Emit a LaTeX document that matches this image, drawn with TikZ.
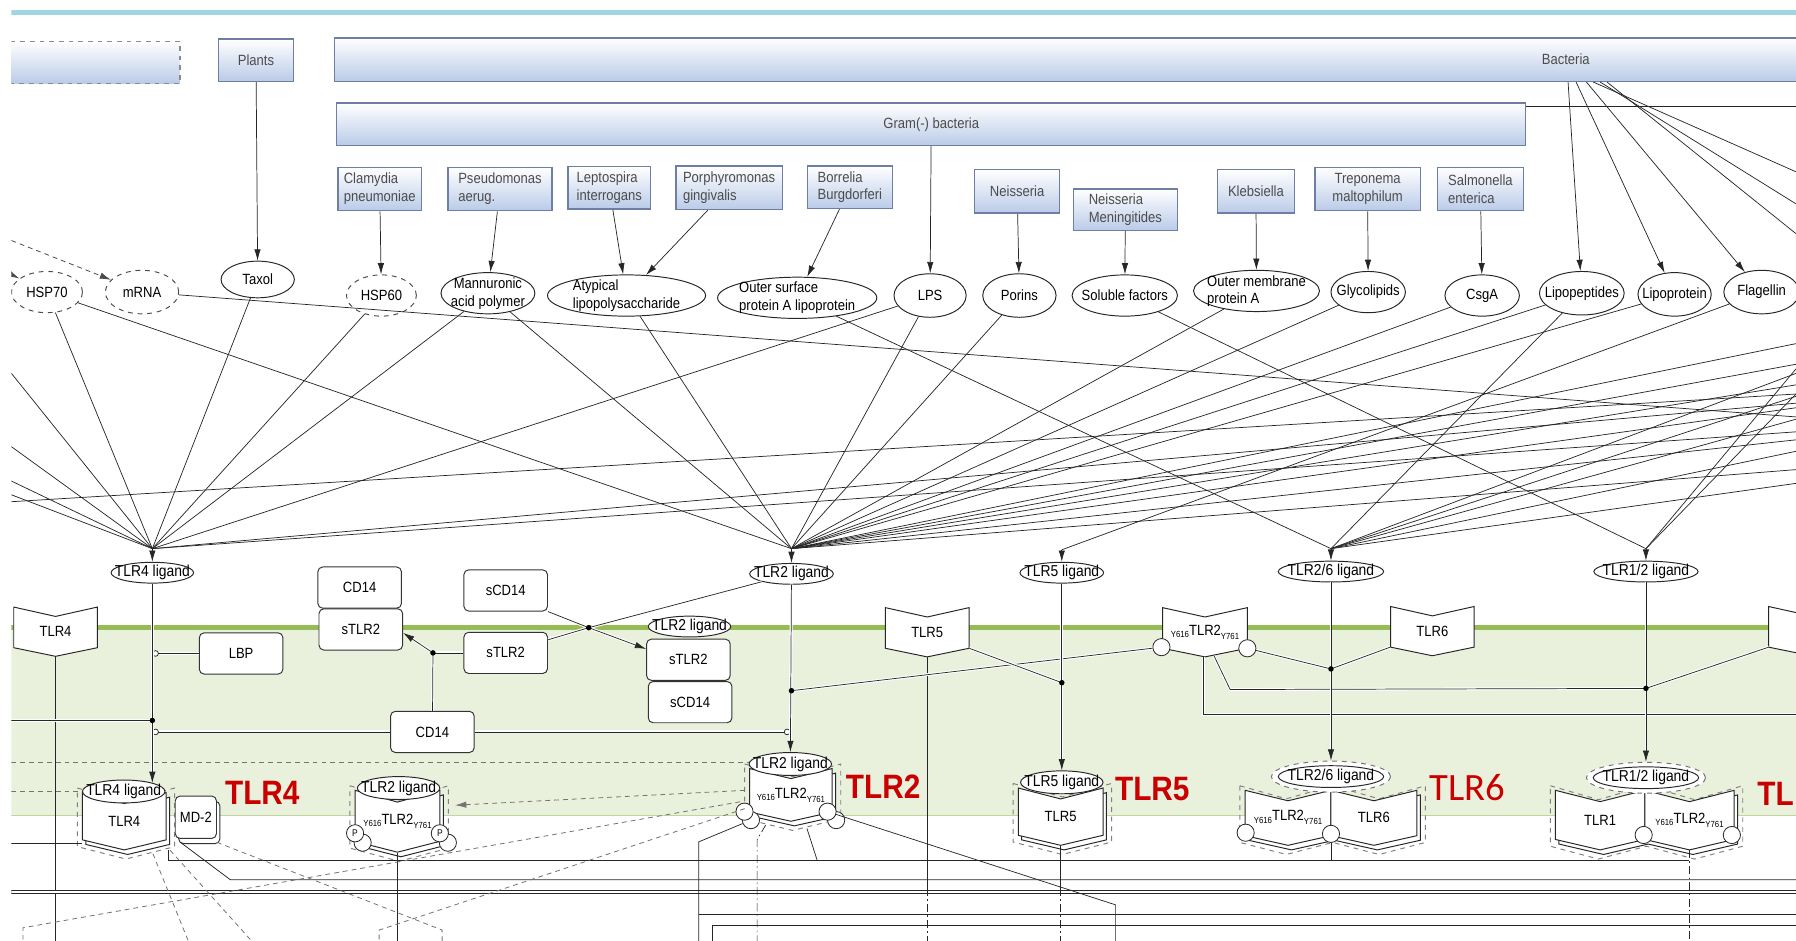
\documentclass[tikz,border=0pt]{standalone}
\usepackage{fontspec}
\setmainfont{Liberation Sans}[FakeStretch=0.88]
\newfontfamily\labfont{Carlito}
\usetikzlibrary{shapes,arrows.meta,calc}
\newlength\px
\setlength\px{0.025cm}
\definecolor{boxblue}{RGB}{186,203,232}
\definecolor{boxline}{RGB}{110,126,165}
\definecolor{memgreen}{RGB}{150,188,86}
\definecolor{cytgreen}{RGB}{233,241,221}
\definecolor{tlrred}{RGB}{200,0,0}
\definecolor{topcyan}{RGB}{160,214,226}
\def\orgfont{\fontsize{9.2}{11}\selectfont}
\def\ligfont{\fontsize{9.8}{11}\selectfont}
\def\subfont{\fontsize{5.5}{6}\selectfont}
\def\ytl{{\subfont\raisebox{-1.5pt}{Y616}}TLR2{\subfont\raisebox{-2.5pt}{Y761}}}
\def\two#1#2#3{\smash{\raisebox{-2.5pt}{\begin{tabular}{@{}#1@{}}#2\\#3\end{tabular}}}}
\tikzstyle{org}=[draw=boxline,line width=0.9pt,top color=white,bottom color=boxblue,text=black!70,inner sep=0pt,align=left]
\tikzstyle{elli}=[ellipse,draw=black!85,fill=white,line width=0.6pt,inner sep=0pt]
\tikzstyle{mbox}=[draw=black!80,fill=white,rounded corners=3pt,line width=0.6pt,minimum width=73\px,minimum height=36\px,inner sep=0pt]
\tikzstyle{chevline}=[draw=black!85,fill=white,line width=0.6pt]
\tikzstyle{tlrn}=[inner sep=0pt,minimum width=73\px,minimum height=43\px]
\tikzstyle{phos}=[circle,draw=black!85,fill=white,line width=0.5pt,inner sep=0pt,minimum size=15\px,font=\fontsize{6}{6}\selectfont]
\tikzstyle{link}=[draw=black!85,line width=0.45pt]
\tikzstyle{mline}=[link,preaction={draw=white,line width=1.8pt}]
\tikzstyle{gline}=[draw=black!55,line width=0.5pt,dash pattern=on 3pt off 2.5pt]
\tikzstyle{dline}=[link,dash pattern=on 5pt off 2pt on 1pt off 2pt]
\tikzstyle{arr}=[-{Latex[length=7pt,width=4pt]}]
\tikzstyle{ocirc}=[-{Circle[open,length=4pt]}]
\tikzstyle{tlrlab}=[text=tlrred,font=\fontsize{21}{21}\selectfont\bfseries]
\def\chev#1#2#3#4#5{\draw[chevline,#5,shift={(#1,#2)},xscale=#3,yscale=#4] (-1,-1) -- (0,-0.62) -- (1,-1) -- (1,0.65) -- (0,1) -- (-1,0.65) -- cycle;}
\def\dchev#1#2#3#4#5{\draw[chevline,#5,shift={(#1,#2)},xscale=#3,yscale=#4] (-2,-1) -- (-1,-0.62) -- (0,-1) -- (1,-0.62) -- (2,-1) -- (2,0.65) -- (1,1) -- (0,0.65) -- (-1,1) -- (-2,0.65) -- cycle;}
\def\cplx#1#2#3#4{\chev{#1+1.5}{#2+2}{#3+6}{#4+6}{dashed,draw=black!50,fill=none}\chev{#1+3}{#2+4}{#3}{#4}{}\chev{#1}{#2}{#3}{#4}{}}
\def\dcplx#1#2#3#4{\dchev{#1+1.5}{#2+2}{#3+3}{#4+6}{dashed,draw=black!50,fill=none}\dchev{#1+3}{#2+4}{#3}{#4}{}\chev{#1-#3}{#2}{#3}{#4}{}\chev{#1+#3}{#2}{#3}{#4}{}}
\newcommand\elnode[6][]{\node[elli,#1,minimum width=#4\px,minimum height=#5\px] (#2) at (#3) {\makebox[0pt]{#6}};}

\begin{document}
\begin{tikzpicture}[x=0.025cm,y=-0.025cm,font=\orgfont]
  \useasboundingbox (0,0) rectangle (1568,821);
  \clip (10,0) rectangle (1568,821);
  \fill[topcyan] (0,8.5) rectangle (1568,13);
  \fill[cytgreen] (10,549) rectangle (1570,712);
  \draw[memgreen!60,line width=0.6pt] (10,712) -- (1570,712);
  \draw[memgreen,line width=2.8pt] (10,548) -- (1570,548);

  \node[org,dashed,draw=black!45,minimum width=157\px,minimum height=37\px] (virus) at (78.5,54.5) {};
  \node[org,minimum width=65\px,minimum height=37\px] (plants) at (223.5,52.5) {Plants};
  \node[org,minimum width=2150\px,minimum height=38\px] (bact) at (1367,52) {Bacteria};
  \node[org,minimum width=1038\px,minimum height=37\px] (gram) at (813,108.5) {Gram(-) bacteria};
  \node[org,minimum width=73\px,minimum height=38\px] (clam) at (331.5,165) {Clamydia\\pneumoniae};
  \node[org,minimum width=91\px,minimum height=38\px] (pseu) at (436.5,165) {Pseudomonas\\aerug.};
  \node[org,minimum width=72\px,minimum height=37\px] (lept) at (532,164) {Leptospira\\interrogans};
  \node[org,minimum width=93\px,minimum height=38\px] (porph) at (636.5,164) {Porphyromonas\\gingivalis};
  \node[org,minimum width=74\px,minimum height=37\px] (borr) at (742,163.5) {Borrelia\\Burgdorferi};
  \node[org,minimum width=74\px,minimum height=38\px] (neis) at (888,167) {Neisseria};
  \node[org,minimum width=91\px,minimum height=36\px] (neism) at (982.5,183) {Neisseria\\Meningitides};
  \node[org,minimum width=67\px,minimum height=38\px] (kleb) at (1096.5,167) {Klebsiella};
  \node[org,align=center,minimum width=92\px,minimum height=38\px] (trep) at (1194,165) {Treponema\\maltophilum};
  \node[org,minimum width=75\px,minimum height=38\px] (salm) at (1292.5,165) {Salmonella\\enterica};

  \elnode[dashed,draw=black!70]{hsp70}{41,255}{62}{36}{HSP70}
  \elnode[dashed,draw=black!70]{mrna}{124,255}{64}{38}{mRNA}
  \elnode{taxol}{225,244}{64}{32}{Taxol}
  \elnode[dashed,draw=black!70]{hsp60}{333,258}{61}{36}{HSP60}
  \elnode{mann}{426,256}{82}{36}{\two{c}{Mannuronic}{acid polymer}}
  \elnode{atyp}{547,258}{138}{36}{\two{l}{Atypical}{lipopolysaccharide}}
  \elnode{osp}{696,260}{139}{36}{\two{l}{Outer surface}{protein A lipoprotein}}
  \elnode{lps}{812,258}{63}{38}{LPS}
  \elnode{porins}{890,258}{64}{38}{Porins}
  \elnode{solub}{982,258}{92}{36}{Soluble factors}
  \elnode{omp}{1097,254}{110}{36}{\two{l}{Outer membrane}{protein A}}
  \elnode{glyco}{1194.5,255}{65}{36}{Glycolipids}
  \elnode{csga}{1294,258}{65}{36}{CsgA}
  \elnode{lipopep}{1381,256}{74}{38}{Lipopeptides}
  \elnode{lipoprot}{1462,257}{64}{38}{Lipoprotein}
  \elnode{flag}{1538,255}{66}{38}{Flagellin}

  \elnode[font=\ligfont]{lig4}{133,500}{72}{17}{TLR4 ligand}
  \elnode[font=\ligfont]{lig2}{691,501}{73}{17}{TLR2 ligand}
  \elnode[font=\ligfont]{lig5}{927,500}{73}{17}{TLR5 ligand}
  \elnode[font=\ligfont]{lig26}{1162,499}{92}{17}{TLR2/6 ligand}
  \elnode[font=\ligfont]{lig12}{1437,499}{91}{17}{TLR1/2 ligand}

  \chev{48.5}{551.5}{36.5}{21.5}{}
  \node[tlrn] (tlr4m) at (48.5,551.5) {TLR4};
  \chev{809.5}{552}{36.5}{21.5}{}
  \node[tlrn] (tlr5m) at (809.5,552) {TLR5};
  \chev{1052}{552}{37}{21.5}{}
  \node[tlrn] (tlr2m) at (1052,552) {\ytl};
  \node[phos] (y616m) at (1014,565) {};
  \node[phos] (y761m) at (1089,566) {};
  \chev{1250.5}{551}{36.5}{21.5}{}
  \node[tlrn] (tlr6m) at (1250.5,551) {TLR6};
  \chev{1581}{551}{37}{21.5}{}
  \node[tlrn] (tlrRm) at (1581,551) {};

  \node[mbox] (cd14a) at (314,513) {CD14};
  \node[mbox] (stlr2a) at (315,549.5) {sTLR2};
  \node[mbox] (lbp) at (210.5,570.5) {LBP};
  \node[mbox] (cd14b) at (377.5,639) {CD14};
  \node[mbox] (scd14a) at (441.5,515.5) {sCD14};
  \node[mbox] (stlr2b) at (441.5,570) {sTLR2};
  \node[mbox] (stlr2c) at (601,576) {sTLR2};
  \node[mbox] (scd14b) at (602.5,613) {sCD14};
  \elnode[font=\ligfont]{lig2s}{602,547}{72}{18}{TLR2 ligand}

  \cplx{108.5}{717}{36.5}{25}
  \node[tlrn,minimum height=50\px] (tlr4c) at (108.5,717) {TLR4};
  \node[mbox,minimum width=36\px,minimum height=37\px] (md2s) at (174,718) {};
  \node[mbox,minimum width=36\px,minimum height=37\px] (md2) at (171,713.5) {MD-2};
  \elnode[font=\ligfont]{lig4c}{108,691}{72}{20}{TLR4 ligand}
  \node[tlrlab] (lab4) at (229,692) {TLR4};

  \cplx{347}{717}{37}{27}
  \node[phos] (p1s) at (316.6,735.7) {};
  \node[phos] (p2s) at (391,735.7) {};
  \node[phos] (p1) at (310,727.5) {P};
  \node[phos] (p2) at (384,727.5) {P};
  \node[tlrn,minimum width=74\px,minimum height=54\px] (tlr2pc) at (347,717) {\ytl};
  \elnode[font=\ligfont]{lig2pc}{348,688}{72}{20}{TLR2 ligand}

  \cplx{690.5}{694}{36}{23}
  \node[phos] (c2lb) at (655.6,716) {};
  \node[phos] (c2rb) at (730,716) {};
  \node[phos] (c2l) at (650,708.6) {};
  \node[phos] (c2r) at (722.5,708.6) {};
  \node[tlrn,minimum width=72\px,minimum height=46\px] (tlr2c) at (690.5,694) {\ytl};
  \elnode[font=\ligfont]{lig2c}{690,667}{72}{20}{TLR2 ligand}
  \node[tlrlab] (lab2) at (771,687) {TLR2};

  \cplx{926}{713}{37}{25}
  \node[tlrn,minimum width=74\px,minimum height=50\px] (tlr5c) at (926,713) {TLR5};
  \elnode[font=\ligfont]{lig5c}{927,683}{72}{20}{TLR5 ligand}
  \node[tlrlab] (lab5) at (1006,689) {TLR5};

  \dcplx{1162}{714}{37.5}{24}
  \node[tlrn,minimum width=75\px,minimum height=48\px] (tlr26a) at (1124.5,714) {\ytl};
  \node[tlrn,minimum width=75\px,minimum height=48\px] (tlr26b) at (1199.5,714) {TLR6};
  \node[phos] (c26l) at (1087.5,727) {};
  \node[phos] (c26m) at (1162,728) {};
  \node[elli,dashed,draw=black!55,minimum width=104\px,minimum height=27\px] (lig26o) at (1162,678) {};
  \elnode[font=\ligfont]{lig26c}{1162,678}{92}{19}{TLR2/6 ligand}
  \node[tlrlab,font=\labfont\fontsize{24}{24}\selectfont] (lab6) at (1281,688) {TLR6};

  \dcplx{1436}{716}{39}{26}
  \node[tlrn,minimum width=78\px,minimum height=52\px] (tlr12a) at (1397,716) {TLR1};
  \node[tlrn,minimum width=78\px,minimum height=52\px] (tlr12b) at (1475,716) {\ytl};
  \node[phos] (c12m) at (1435,729) {};
  \node[phos] (c12r) at (1512,729) {};
  \node[elli,dashed,draw=black!55,minimum width=104\px,minimum height=27\px] (lig12o) at (1437,679) {};
  \elnode[font=\ligfont]{lig12c}{1437,679}{92}{19}{TLR1/2 ligand}
  \node[tlrlab,anchor=west,inner xsep=0pt] (lab1) at (1534,693) {TL};

  \draw[link,arr] (plants) -- (taxol);
  \draw[link,arr] (clam) -- (hsp60);
  \draw[link,arr] (pseu) -- (mann);
  \draw[link,arr] (lept) -- (atyp);
  \draw[link,arr] (porph) -- (atyp);
  \draw[link,arr] (borr) -- (osp);
  \draw[link,arr] (gram) -- (lps);
  \draw[link,arr] (neis) -- (porins);
  \draw[link,arr] (neism) -- (solub);
  \draw[link,arr] (kleb) -- (omp);
  \draw[link,arr] (trep) -- (glyco);
  \draw[link,arr] (salm) -- (csga);
  \foreach \t/\dx in {lipopep/2,lipoprot/9,flag/18}
    \draw[link,arr] ([xshift=\dx\px]bact.south) -- (\t);
  \foreach \y/\dx in {150/24,178/30,204/36} {
    \coordinate (rb\y) at (1568,\y);
    \draw[link] ([xshift=\dx\px]bact.south) -- (rb\y);
  }
  \draw[link] (gram.north east |- 0,93) -- (1568,93);
  \coordinate (lv1) at (10,210);
  \coordinate (lv2) at (-30,220);
  \draw[gline,draw=black!70,arr] (lv1) -- (mrna);
  \draw[gline,draw=black!70,arr] (lv2) -- (hsp70);

  \coordinate (c4) at (133,479);
  \coordinate (c2) at (691,479);
  \coordinate (c5) at (927,480);
  \coordinate (c26) at (1162,479);
  \coordinate (c12) at (1437,479);
  \foreach \s in {hsp70,taxol,hsp60,mann,lps}
    \draw[link] (\s) -- (c4);
  \foreach \y in {326,390,420,432} {
    \coordinate (l4-\y) at (10,\y);
    \draw[link] (l4-\y) -- (c4);
  }
  \foreach \y in {352,377} {
    \coordinate (r4-\y) at (1568,\y);
    \draw[link] (r4-\y) -- (c4);
  }
  \foreach \s in {hsp70,mann,atyp,lps,porins,omp,glyco,csga,lipopep,lipoprot}
    \draw[link] (\s) -- (c2);
  \foreach \y in {300,318,336,356,384,410} {
    \coordinate (r2-\y) at (1568,\y);
    \draw[link] (r2-\y) -- (c2);
  }
  \draw[link] (flag) -- (c5);
  \foreach \s in {osp,lipopep}
    \draw[link] (\s) -- (c26);
  \foreach \y in {326,346,366,394,422} {
    \coordinate (r26-\y) at (1568,\y);
    \draw[link] (r26-\y) -- (c26);
  }
  \draw[link] (solub) -- (c12);
  \foreach \y in {322,344} {
    \coordinate (r12-\y) at (1568,\y);
    \draw[link] (r12-\y) -- (c12);
  }
  \coordinate (rm) at (1568,364);
  \draw[link] (mrna) -- (rm);
  \coordinate (l0) at (10,438);
  \coordinate (r0) at (1568,344);
  \draw[link] (l0) -- (r0);
  \foreach \c/\l in {c4/lig4,c2/lig2,c5/lig5,c26/lig26,c12/lig12}
    \draw[link,arr] (\c) -- (\l);

  \coordinate (bt) at (0,823);
  \draw[link] (tlr4m) -- (tlr4m |- bt);
  \coordinate (l6) at (10,736);
  \draw[link] (l6) -- (l6 -| tlr4c.west);
  \coordinate (k751) at (1475,751);
  \draw[link] ($(tlr4c.south east)+(2,0)$) |- (k751);
  \draw[dline] (tlr12b.south) -- (tlr12b |- bt);
  \coordinate (k2) at (201,768);
  \coordinate (r768) at (1568,768);
  \draw[link] ($(md2.south west)+(5,3)$) -- (k2) -- (r768);
  \coordinate (l7) at (10,778.5);
  \coordinate (r7) at (1568,778.5);
  \draw[link,double=white,double distance=1.3pt,line width=0.5pt] (l7) -- (r7);
  \draw[link] (tlr2pc) -- (tlr2pc |- bt);
  \coordinate (k3) at (610,735);
  \draw[link] (c2lb) -- (k3) -- (k3 |- bt);
  \coordinate (r798) at (1568,798);
  \draw[link] (k3 |- r798) -- (r798);
  \coordinate (r808) at (1568,808);
  \coordinate (k4) at (622,823);
  \draw[link] (k4) |- (r808);
  \coordinate (k5) at (661,733);
  \draw[dline] ($(tlr2c.south)+(-22,3)$) -- (k5) -- (k5 |- bt);
  \draw[link] ($(tlr2c.south)+(14,6)$) -- ($(tlr2c.south)+(23,34)$);
  \coordinate (k6) at (974,790);
  \draw[link] (c2r) -- (k6) -- (k6 |- bt);
  \coordinate (k7) at (0,775);
  \draw[link] (tlr5m) -- (tlr5m |- k7);
  \draw[dline] (tlr5m |- k7) -- (tlr5m |- bt);
  \draw[link] (tlr5c) -- (tlr5c |- k7);
  \draw[dline] (tlr5c |- k7) -- (tlr5c |- bt);
  \draw[link] (c26m) -- (c26m |- k751);

  \coordinate (l8) at (10,666);
  \draw[gline] (l8) -- (l8 -| lig2c.west);
  \coordinate (l9) at (10,691);
  \draw[gline] (l9) -- (l9 -| tlr4c.west);
  \draw[gline,arr] ($(tlr2c.west)+(-4,-4)$) -- ($(tlr2pc.east)+(13,-14)$);
  \coordinate (k8) at (20,810);
  \draw[gline] ($(tlr2c.west)+(-8,6)$) -- (k8) -- (k8 |- bt);
  \coordinate (k9) at (331,812);
  \draw[gline] ($(tlr2c.west)+(-4,12)$) -- (k9) -- (k9 |- bt);
  \coordinate (k10) at (386,812);
  \draw[gline] ($(md2.south east)+(0,3)$) -- (k10) -- (k10 |- bt);
  \coordinate (k11) at (165,823);
  \coordinate (k12) at (221,823);
  \draw[gline] ($(tlr4c.south)+(25,3)$) -- (k11);
  \draw[gline] ($(tlr4c.south)+(40,0)$) -- (k12);

  \coordinate (d4) at (133,629);
  \coordinate (j1) at (378,570);
  \coordinate (j2) at (514,548);
  \coordinate (d2) at (691,603);
  \coordinate (d5) at (927,596);
  \coordinate (d26) at (1162,584);
  \coordinate (d12) at (1437,601);
  \coordinate (k1) at (1074,602);
  \coordinate (l5) at (10,629);
  \coordinate (r9) at (1568,624);
  \draw[mline] (l5) -- (d4);
  \draw[mline,ocirc] (lbp) -- (lbp -| lig4);
  \draw[mline,ocirc] (cd14b) -- (cd14b -| lig4);
  \draw[mline,ocirc] (cd14b) -- ($(cd14b -| lig2)+(-1,0)$);
  \draw[mline] (stlr2b) -- (j1);
  \draw[mline] (cd14b) -- (j1);
  \draw[mline,arr] (j1) -- ($(stlr2a.east)+(0,3)$);
  \draw[mline] (scd14a.south east) -- (j2);
  \draw[mline] ($(stlr2b.north east)+(0,7)$) -- (j2);
  \draw[mline] (lig2) -- (j2);
  \draw[mline,arr] (j2) -- ($(stlr2c.north west)+(0,9)$);
  \draw[mline] (d2) -- (y616m);
  \draw[mline] ($(tlr5m.east)+(0,14)$) -- (d5);
  \draw[mline] (y761m) -- (d26);
  \draw[mline] ($(tlr6m.west)+(0,14)$) -- (d26);
  \draw[mline] ($(tlr2m.south)+(8,-1)$) -- (k1) -- (d12);
  \draw[mline] ($(tlrRm.west)+(0,14)$) -- (d12);
  \draw[mline] ($(tlr2m.south)+(-1,0)$) |- (r9);
  \draw[mline,arr] (lig4) -- ($(lig4.south |- lig4c.north)+(0,3)$);
  \draw[mline,arr] (lig2) -- (lig2c);
  \draw[mline,arr] (lig5) -- (lig5c);
  \draw[mline,arr] (lig26) -- (lig26o);
  \draw[mline,arr] (lig12) -- (lig12o);
  \foreach \d in {d4,j1,j2,d2,d5,d26,d12}
    \fill (\d) circle (1.7pt);
\end{tikzpicture}
\end{document}
